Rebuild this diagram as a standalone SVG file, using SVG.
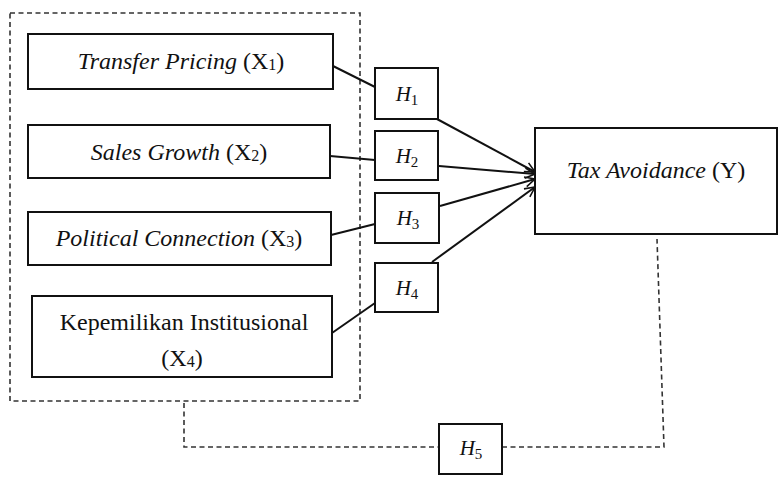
<svg xmlns="http://www.w3.org/2000/svg" width="782" height="477" viewBox="0 0 782 477">
<style>
.box{fill:#fff;stroke:#111;stroke-width:2}
.dash{fill:none;stroke:#333;stroke-width:1.6;stroke-dasharray:5,3.5}
.t{font-family:"Liberation Serif","Times New Roman",serif;font-size:24px;fill:#111;text-anchor:middle}
.h{font-size:21px}
.i{font-style:italic}
.sub{font-size:16px}
.hs{font-size:15px}
.ln{fill:none;stroke:#111;stroke-width:2}
</style>
<defs>
<marker id="arr" viewBox="0 0 12 12" refX="11" refY="6" markerWidth="12" markerHeight="12" markerUnits="userSpaceOnUse" orient="auto">
<path d="M1,1 L11,6 L1,11" fill="none" stroke="#111" stroke-width="1.6"/>
</marker>
</defs>
<rect x="10" y="13" width="350" height="388" class="dash"/>
<g id="connectors">
<line x1="331" y1="65" x2="375" y2="87" class="ln"/>
<line x1="330" y1="156" x2="375" y2="160" class="ln"/>
<line x1="331" y1="235" x2="375" y2="224" class="ln"/>
<line x1="332" y1="333" x2="375" y2="303" class="ln"/>
<line x1="437" y1="119" x2="535" y2="172" class="ln" marker-end="url(#arr)"/>
<line x1="439" y1="166" x2="535" y2="174" class="ln" marker-end="url(#arr)"/>
<line x1="440" y1="206" x2="535" y2="179" class="ln" marker-end="url(#arr)"/>
<line x1="432" y1="262" x2="535" y2="187" class="ln" marker-end="url(#arr)"/>
<polyline points="184,403 184,447 439,447" class="dash"/>
<polyline points="502,447 664,447 657,239" class="dash"/>
</g>
<g id="x1"><rect x="28" y="34" width="305" height="55" class="box"/>
<text x="181" y="69" class="t"><tspan class="i">Transfer Pricing</tspan> (X<tspan class="sub" dy="1">1</tspan><tspan dy="-1">)</tspan></text></g>
<g id="x2"><rect x="28" y="125" width="302" height="53" class="box"/>
<text x="179" y="160" class="t"><tspan class="i">Sales Growth</tspan> (X<tspan class="sub" dy="1">2</tspan><tspan dy="-1">)</tspan></text></g>
<g id="x3"><rect x="28" y="212" width="303" height="53" class="box"/>
<text x="179" y="246" class="t"><tspan class="i">Political Connection</tspan> (X<tspan class="sub" dy="1">3</tspan><tspan dy="-1">)</tspan></text></g>
<g id="x4"><rect x="32" y="296" width="300" height="81" class="box"/>
<text x="184" y="330" class="t">Kepemilikan Institusional</text>
<text x="182" y="366" class="t">(X<tspan class="sub" dy="1">4</tspan><tspan dy="-1">)</tspan></text></g>
<g id="h1"><rect x="375" y="68" width="63" height="51" class="box"/>
<text x="407" y="101" class="t h"><tspan class="i">H</tspan><tspan class="hs" dy="4">1</tspan></text></g>
<g id="h2"><rect x="375" y="131" width="63" height="49" class="box"/>
<text x="407" y="163" class="t h"><tspan class="i">H</tspan><tspan class="hs" dy="4">2</tspan></text></g>
<g id="h3"><rect x="375" y="193" width="64" height="50" class="box"/>
<text x="408" y="225" class="t h"><tspan class="i">H</tspan><tspan class="hs" dy="4">3</tspan></text></g>
<g id="h4"><rect x="375" y="263" width="63" height="49" class="box"/>
<text x="407" y="295" class="t h"><tspan class="i">H</tspan><tspan class="hs" dy="4">4</tspan></text></g>
<g id="y"><rect x="535" y="128" width="242" height="106" class="box"/>
<text x="656" y="178" class="t"><tspan class="i">Tax Avoidance</tspan> (Y)</text></g>
<g id="h5"><rect x="439" y="424" width="63" height="50" class="box"/>
<text x="471" y="455" class="t h"><tspan class="i">H</tspan><tspan class="hs" dy="4">5</tspan></text></g>
</svg>
